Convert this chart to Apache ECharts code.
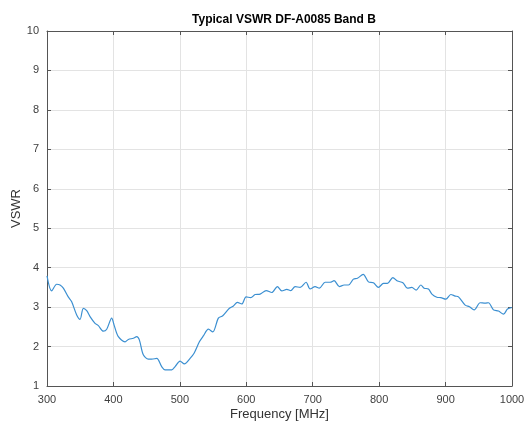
<!DOCTYPE html>
<html><head><meta charset="utf-8">
<script src="https://cdn.jsdelivr.net/npm/echarts@6/dist/echarts.min.js"></script>
<style>html,body{margin:0;padding:0;background:#fff}#c{width:526px;height:426px}</style>
</head><body><div id="c"></div>
<script>
var freq = [300,307,314.6,319.6,324.6,332,337,344.7,349.7,354.7,359.8,364.8,372.3,377.3,384.8,389.9,397.4,400.9,407.4,417.5,422.5,430,435,439,445,452.6,457.7,465.2,472.7,477.7,487.8,492.8,500.3,506.8,515.4,521.4,529.4,535.4,543,549.5,558,564.6,574.6,580.6,586.6,593.2,599.7,606.8,613.3,620.8,629.9,638.4,646.8,653.5,661,667,673.5,681,690,696,703.6,710,718.7,726.2,732.2,740.2,747.3,753.8,761.3,767.3,776,783.9,791.4,799,806.5,812.5,820.6,827.6,835.7,842.6,849.2,855.7,862.8,867.8,874.2,879.4,886.9,892.9,900.4,907.9,914.5,919.4,929.5,936,943,952.1,959.6,964.6,972.1,979.7,987.2,993.2,1000];
var vswr = [3.79,3.41,3.58,3.56,3.48,3.26,3.14,2.80,2.69,2.97,2.91,2.76,2.59,2.53,2.39,2.44,2.72,2.55,2.25,2.12,2.18,2.21,2.25,2.17,1.79,1.68,1.68,1.70,1.49,1.41,1.41,1.49,1.63,1.56,1.70,1.83,2.12,2.27,2.44,2.37,2.72,2.78,2.97,3.03,3.12,3.08,3.26,3.24,3.32,3.33,3.42,3.37,3.52,3.41,3.45,3.42,3.52,3.50,3.63,3.46,3.52,3.48,3.63,3.63,3.67,3.52,3.56,3.56,3.71,3.73,3.83,3.64,3.62,3.50,3.60,3.60,3.75,3.66,3.62,3.48,3.50,3.43,3.56,3.48,3.46,3.33,3.25,3.24,3.20,3.32,3.28,3.26,3.05,3.01,2.93,3.11,3.10,3.11,2.93,2.90,2.82,2.95,2.99];
var xTicks = [300,400,500,600,700,800,900,1000];
var yTicks = [1,2,3,4,5,6,7,8,9,10];
var titleText = 'Typical VSWR DF-A0085 Band B';
var xName = 'Frequency [MHz]';
var yName = 'VSWR';

var pts = freq.map(function(f,i){return [f,vswr[i]];});
var chart = echarts.init(document.getElementById('c'), null, {renderer:'canvas'});
var lblCol = '#404040';
var font = 'Liberation Sans, Arial, Helvetica, sans-serif';
chart.setOption({
  animation:false,
  backgroundColor:'#fff',
  title:{text:titleText,left:279,top:9,textAlign:'center',textStyle:{fontSize:12,fontWeight:'bold',color:'#000',fontFamily:font}},
  grid:{left:47,right:14,top:31,bottom:40,containLabel:false,outerBoundsMode:'none'},
  xAxis:[{
    type:'value',min:xTicks[0],max:xTicks[xTicks.length-1],interval:100,
    name:xName,nameLocation:'middle',nameGap:22,nameMoveOverlap:false,
    nameTextStyle:{fontSize:13,color:'#333',fontFamily:font},
    axisLine:{show:true,lineStyle:{color:'#555',width:1}},
    axisTick:{show:true,inside:true,length:4,lineStyle:{color:'#555'}},
    axisLabel:{fontSize:11,color:lblCol,margin:8,fontFamily:font,
      formatter:function(v){return xTicks.indexOf(v)>=0?String(v):'';}},
    splitLine:{show:true,lineStyle:{color:'#e3e3e3',width:1}}
  },{
    type:'value',position:'top',min:xTicks[0],max:xTicks[xTicks.length-1],interval:100,
    axisLine:{show:true,lineStyle:{color:'#555',width:1}},
    axisTick:{show:true,inside:true,length:4,lineStyle:{color:'#555'}},
    axisLabel:{show:false},splitLine:{show:false}
  }],
  yAxis:[{
    type:'value',min:yTicks[0],max:yTicks[yTicks.length-1],interval:1,
    name:yName,nameLocation:'middle',nameGap:24,nameRotate:90,nameMoveOverlap:false,
    nameTextStyle:{fontSize:13,color:'#333',fontFamily:font},
    axisLine:{show:true,lineStyle:{color:'#555',width:1}},
    axisTick:{show:true,inside:true,length:4,lineStyle:{color:'#555'}},
    axisLabel:{fontSize:11,color:lblCol,margin:8,fontFamily:font,
      formatter:function(v){return yTicks.indexOf(v)>=0?String(v):'';}},
    splitLine:{show:true,lineStyle:{color:'#e3e3e3',width:1}}
  },{
    type:'value',position:'right',min:yTicks[0],max:yTicks[yTicks.length-1],interval:1,
    axisLine:{show:true,lineStyle:{color:'#555',width:1}},
    axisTick:{show:true,inside:true,length:4,lineStyle:{color:'#555'}},
    axisLabel:{show:false},splitLine:{show:false}
  }],
  series:[{type:'line',data:pts,xAxisIndex:0,yAxisIndex:0,showSymbol:false,smooth:0.3,
    lineStyle:{color:'#3b8fd1',width:1.2}}]
});
</script></body></html>
